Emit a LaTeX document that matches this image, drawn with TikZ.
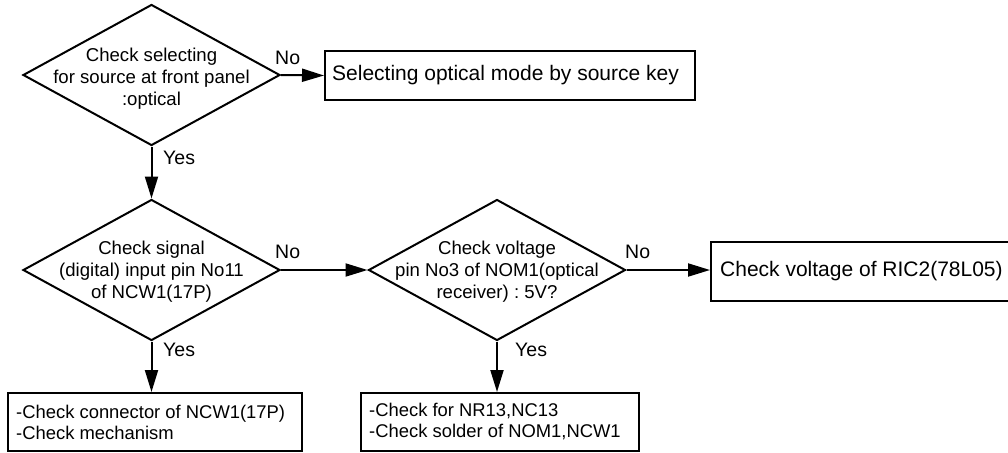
\documentclass[tikz,border=0pt]{standalone}
\usepackage{fontspec}
\setmainfont{Liberation Sans}
\usetikzlibrary{shapes.geometric,arrows.meta}
\frenchspacing
\begin{document}
\begin{tikzpicture}[x=1pt,y=-1pt,
  dia/.style={draw,line width=2pt,shape=diamond,minimum width=257pt,minimum height=141pt,inner sep=0pt},
  dtext/.style={align=center,font=\fontsize{18.6}{22}\selectfont,inner sep=0pt},
  bigbox/.style={draw,line width=2pt,inner sep=0pt},
  bigtext/.style={inner sep=0pt,anchor=west,font=\fontsize{21}{24}\selectfont},
  smalltext/.style={inner sep=0pt,anchor=west,align=left,font=\fontsize{18.4}{21}\selectfont},
  arr/.style={line width=2pt,-{Triangle[length=22pt,width=13pt]}},
  lab/.style={font=\fontsize{19.5}{22}\selectfont,inner sep=0pt,anchor=west}]
\useasboundingbox (0,0) rectangle (1008,452);
% decisions
\node[dia] (d1) at (151.5,75) {};
\node[dtext] (d1t) at (151.5,79) {Check selecting\\for source at front panel\\:optical};
\node[dia] (d2) at (151.5,270) {};
\node[dtext] (d2t) at (151.5,272) {Check signal\\(digital) input pin No11\\of NCW1(17P)};
\node[dia] (d3) at (497,270) {};
\node[dtext] (d3t) at (497,272) {Check voltage\\pin No3 of NOM1(optical\\receiver) : 5V?};
% boxes
\node[bigbox,minimum width=370pt,minimum height=49pt] (b1) at (510,75.5) {};
\node[bigtext] (b1t) at (332,75.5) {Selecting optical mode by source key};
\node[bigbox,minimum width=303pt,minimum height=59pt] (b3) at (862.5,271.5) {};
\node[bigtext] (b3t) at (720,271.5) {Check voltage of RIC2(78L05)};
\node[bigbox,minimum width=294pt,minimum height=58pt] (b2) at (155,422) {};
\node[smalltext] (b2t) at (16,422) {-Check connector of NCW1(17P)\\-Check mechanism};
\node[bigbox,minimum width=278pt,minimum height=58pt] (b4) at (500,422) {};
\node[smalltext] (b4t) at (369,422) {-Check for NR13,NC13\\-Check solder of NOM1,NCW1};
% connectors
\draw[arr] (d1.east) -- (b1.west);
\draw[arr] (d1.south) -- (d2.north);
\draw[arr] (d2.east) -- (d3.west);
\draw[arr] (d2.south) -- (d2.south |- b2.north);
\draw[arr] (d3.east) -- (d3.east -| b3.west);
\draw[arr] (d3.south) -- (d3.south |- b4.north);
% labels
\node[lab] (n1) at (275,58) {No};
\node[lab] (y1) at (163,158) {Yes};
\node[lab] (n2) at (275,252) {No};
\node[lab] (y2) at (163,350) {Yes};
\node[lab] (n3) at (625,252) {No};
\node[lab] (y3) at (515,350) {Yes};
\end{tikzpicture}
\end{document}
